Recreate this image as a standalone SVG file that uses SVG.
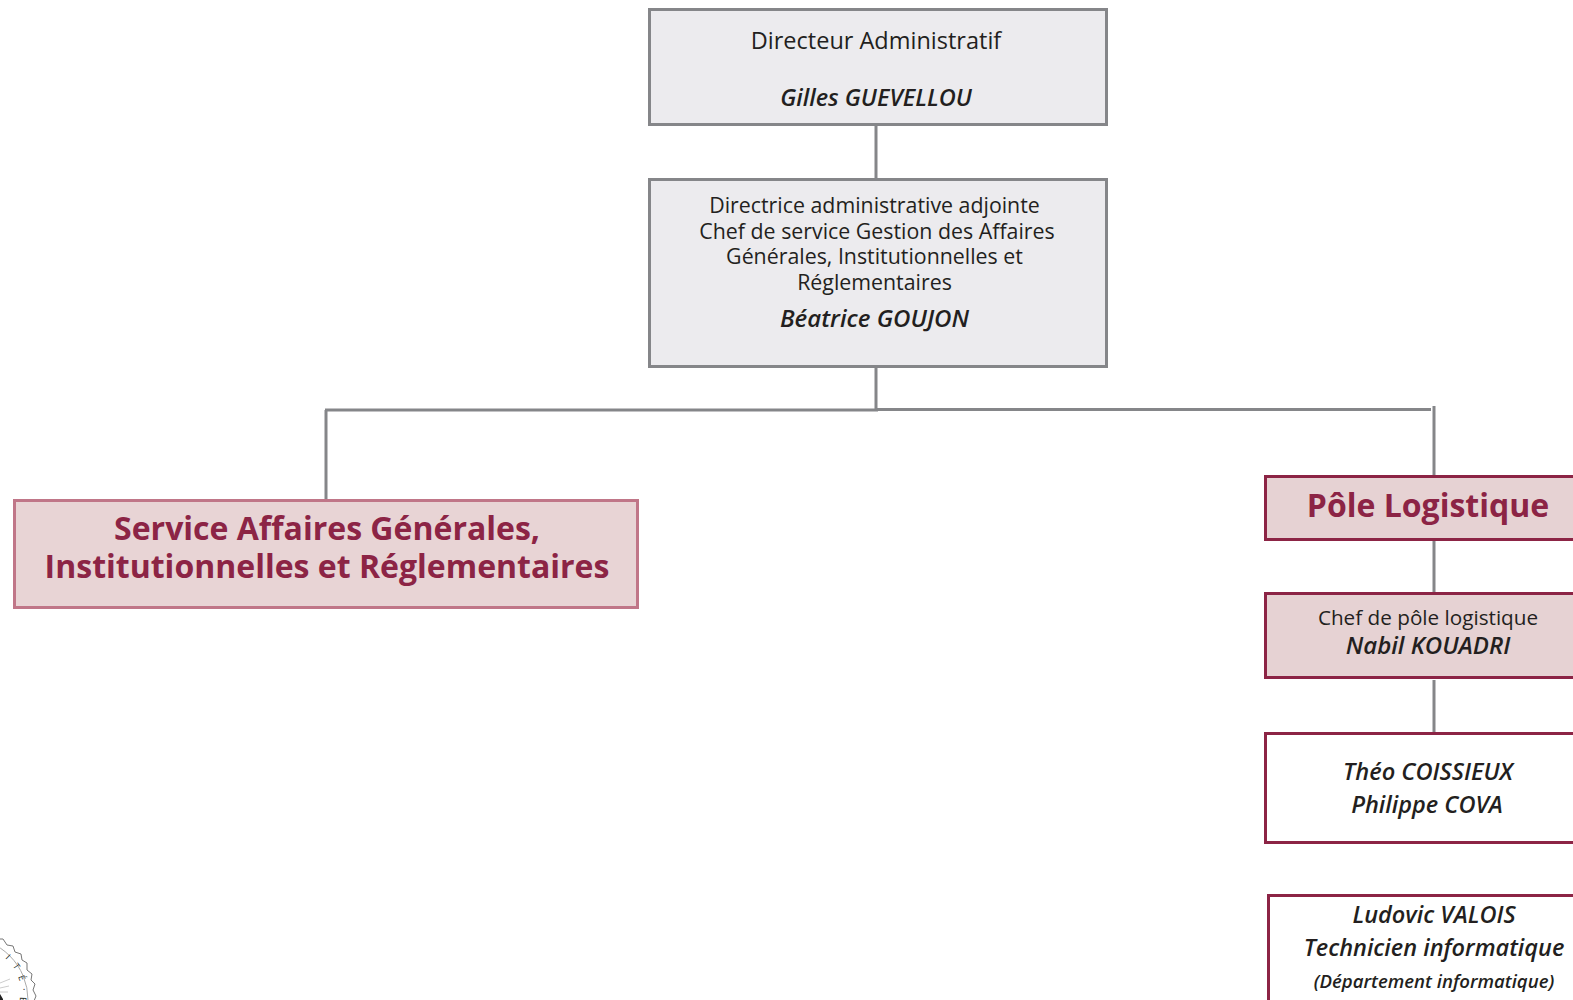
<svg xmlns="http://www.w3.org/2000/svg" width="1573" height="1000" viewBox="0 0 1573 1000">
<style>
text{font-family:"Open Sans","Noto Sans","Liberation Sans",sans-serif;fill:#231f20;text-anchor:middle}
.gr{fill:#ecebee;stroke:#858689;stroke-width:3}
.pk{fill:#e6d2d3;stroke:#8c2445;stroke-width:3}
.wh{fill:#fff;stroke:#8c2445;stroke-width:3}
.c{stroke:#858689;stroke-width:3;fill:none}
.n{font-style:italic;font-weight:600}
.t{font-weight:700;fill:#8c2445}
</style>
<g id="connectors">
<path class="c" d="M876 126V179M876 368V411M326 499V410M325 410H878"/>
<path class="c" d="M876 409.500H1431" stroke-width="2.500"/>
<path class="c" d="M1434 406V476M1434 541V593M1434 680V734"/>
</g>
<g id="node-directeur">
<rect class="gr" x="649.500" y="9.500" width="457" height="115"/>
<text x="876" y="49" font-size="23.500">Directeur Administratif</text>
<text class="n" x="876" y="106" font-size="23.500">Gilles GUEVELLOU</text>
</g>
<g id="node-directrice">
<rect class="gr" x="649.500" y="179.500" width="457" height="187"/>
<text x="874.500" y="213" font-size="21.350">Directrice administrative adjointe</text>
<text x="877" y="239" font-size="21.350">Chef de service Gestion des Affaires</text>
<text x="874.500" y="264" font-size="21.350">Générales, Institutionnelles et</text>
<text x="874.500" y="290" font-size="21.350">Réglementaires</text>
<text class="n" x="874.500" y="327" font-size="24">Béatrice GOUJON</text>
</g>
<g id="node-service">
<rect x="14.500" y="500.500" width="623" height="107" fill="#e8d4d5" stroke="#c07688" stroke-width="3"/>
<text class="t" x="327" y="540" font-size="32">Service Affaires Générales,</text>
<text class="t" x="327" y="578" font-size="32">Institutionnelles et Réglementaires</text>
</g>
<g id="node-pole">
<rect class="pk" x="1265.500" y="476.500" width="320" height="63"/>
<text class="t" x="1428" y="517" font-size="32">Pôle Logistique</text>
</g>
<g id="node-chef">
<rect class="pk" x="1265.500" y="593.500" width="320" height="84"/>
<text x="1428" y="625" font-size="20.700">Chef de pôle logistique</text>
<text class="n" x="1428" y="654" font-size="24">Nabil KOUADRI</text>
</g>
<g id="node-equipe">
<rect class="wh" x="1265.500" y="733.500" width="320" height="109"/>
<text class="n" x="1428" y="780" font-size="23.600">Théo COISSIEUX</text>
<text class="n" x="1427" y="813" font-size="23.500">Philippe COVA</text>
</g>
<g id="node-valois">
<rect class="wh" x="1268.500" y="895.500" width="320" height="120"/>
<text class="n" x="1434" y="923" font-size="23.500">Ludovic VALOIS</text>
<text class="n" x="1434" y="956" font-size="23.500">Technicien informatique</text>
<text class="n" x="1434" y="988" font-size="18.600">(Département informatique)</text>
</g>
<g id="seal">
<polyline points="-2,939 3,939 7,945 13,946 15,952 21,954 22,960 27,963 27,970 32,974 31,980 35,984 33,990 36,996 34,1001" fill="none" stroke="#777" stroke-width="1" stroke-linejoin="round"/>
<circle cx="-34.500" cy="1000" r="62.500" fill="none" stroke="#aaa" stroke-width="1"/>
<text font-size="9" transform="translate(6 959) rotate(43)">I</text>
<text font-size="9" transform="translate(14 968) rotate(55)">T</text>
<text font-size="9" transform="translate(19 979) rotate(68)">É</text>
<text font-size="9" transform="translate(21 990) rotate(80)">·</text>
<text font-size="9" transform="translate(20 1000) rotate(92)">B</text>
<path d="M0 983L10 979M0 988L9 986M0 992L8 992" stroke="#ccc" stroke-width="1"/>
<path d="M0 994L3 999V1000H0Z" fill="#222"/>
</g>
</svg>
